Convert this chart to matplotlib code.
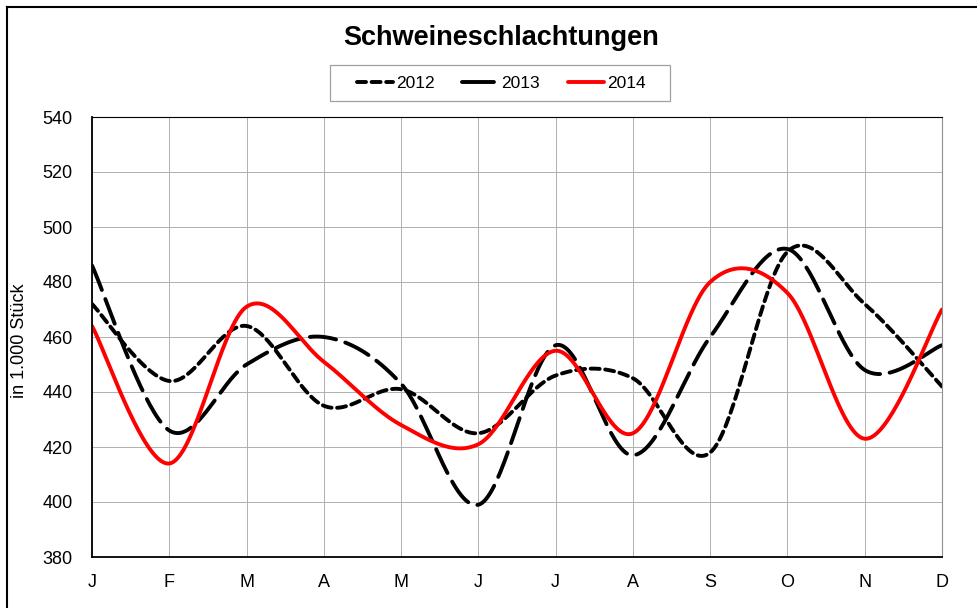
import numpy as np
import matplotlib
matplotlib.use('Agg')
import matplotlib.pyplot as plt
from matplotlib.lines import Line2D

plt.rcParams['font.family'] = ['Liberation Sans', 'DejaVu Sans']
plt.rcParams['lines.scale_dashes'] = False

months = ['J', 'F', 'M', 'A', 'M', 'J', 'J', 'A', 'S', 'O', 'N', 'D']
v2012 = [472, 444, 464, 435, 441, 425, 446, 445, 418, 491, 472, 442]
v2013 = [486, 426, 450, 460, 443, 399, 457, 417, 460, 492, 448, 457]
v2014 = [464, 414, 471, 451, 428, 421, 455, 425, 480, 476, 423, 470]
years = ['2012', '2013', '2014']


def smooth(y, n=40):
    """Excel-like smoothed line: cubic Bezier through the points."""
    y = np.asarray(y, float)
    x = np.arange(len(y), dtype=float)
    px = np.concatenate([[x[0]], x, [x[-1]]])
    py = np.concatenate([[y[0]], y, [y[-1]]])
    t = np.linspace(0, 1, n)[:, None]
    xs, ys = [], []
    for i in range(len(y) - 1):
        p0 = np.array([px[i + 1], py[i + 1]])
        p3 = np.array([px[i + 2], py[i + 2]])
        c1 = p0 + (p3 - np.array([px[i], py[i]])) / 6.0
        c2 = p3 - (np.array([px[i + 3], py[i + 3]]) - p0) / 6.0
        b = ((1 - t) ** 3) * p0 + 3 * ((1 - t) ** 2) * t * c1 \
            + 3 * (1 - t) * t ** 2 * c2 + t ** 3 * p3
        xs.append(b[:, 0])
        ys.append(b[:, 1])
    return np.concatenate(xs), np.concatenate(ys)


W, H = 978, 608
fig = plt.figure(figsize=(W / 100.0, H / 100.0), dpi=100)
ax = fig.add_axes([92 / W, 1 - 557 / H, (942 - 92) / W, (557 - 117) / H])

styles = [
    dict(color='black', lw=2.8, dashes=(6.5, 4.0), dash_capstyle='round'),
    dict(color='black', lw=2.8, dashes=(19.0, 7.0), dash_capstyle='round'),
    dict(color='#ff0000', lw=2.8, solid_capstyle='round'),
]
for vals, st, name in zip([v2012, v2013, v2014], styles, years):
    xs, ys = smooth(vals)
    ax.plot(xs, ys, label=name, **st)

ax.set_xlim(0, len(months) - 1)
ax.set_ylim(380, 540)
ax.set_xticks(range(len(months)))
ax.set_xticklabels(months)
ax.set_yticks(np.arange(380, 541, 20))
ax.tick_params(length=0, labelsize=13)
ax.tick_params(axis='x', pad=12)
ax.tick_params(axis='y', pad=14)
ax.grid(True, color='#b0b0b0', lw=0.7)
ax.set_axisbelow(True)
for s in ['left', 'bottom']:
    ax.spines[s].set_color('black')
    ax.spines[s].set_linewidth(1.3)
ax.spines['top'].set_color('black')
ax.spines['top'].set_linewidth(0.8)
ax.spines['right'].set_color('#909090')
ax.spines['right'].set_linewidth(0.8)

fig.text(20 / W, 1 - 341 / H, 'in 1.000 Stück', rotation=90,
         ha='center', va='center', fontsize=13)
fig.text(501 / W, 1 - 38 / H, 'Schweineschlachtungen', ha='center',
         va='center', fontsize=19.5, fontweight='bold')

# legend box
fig.patches.append(plt.Rectangle((330 / W, 1 - 101 / H), 340 / W, 36 / H,
                                 transform=fig.transFigure, fill=False,
                                 ec='#a0a0a0', lw=0.9))
leg_styles = [dict(styles[0]), dict(styles[1], dashes=(23.0, 10.0)),
              dict(styles[2])]
handles = [Line2D([], [], **st) for st in leg_styles]
fig.legend(handles, years, loc='center', bbox_to_anchor=(501 / W, 1 - 83 / H),
           ncol=3, frameon=False, fontsize=12.5, handlelength=2.1,
           handletextpad=0.15, columnspacing=1.6)

# outer chart frame
fig.add_artist(Line2D([7 / W, 1], [1 - 7 / H, 1 - 7 / H],
                      transform=fig.transFigure, color='black', lw=1.5))
fig.add_artist(Line2D([7 / W, 7 / W], [0, 1 - 7 / H],
                      transform=fig.transFigure, color='black', lw=1.5))

fig.savefig('out.png', dpi=100)
